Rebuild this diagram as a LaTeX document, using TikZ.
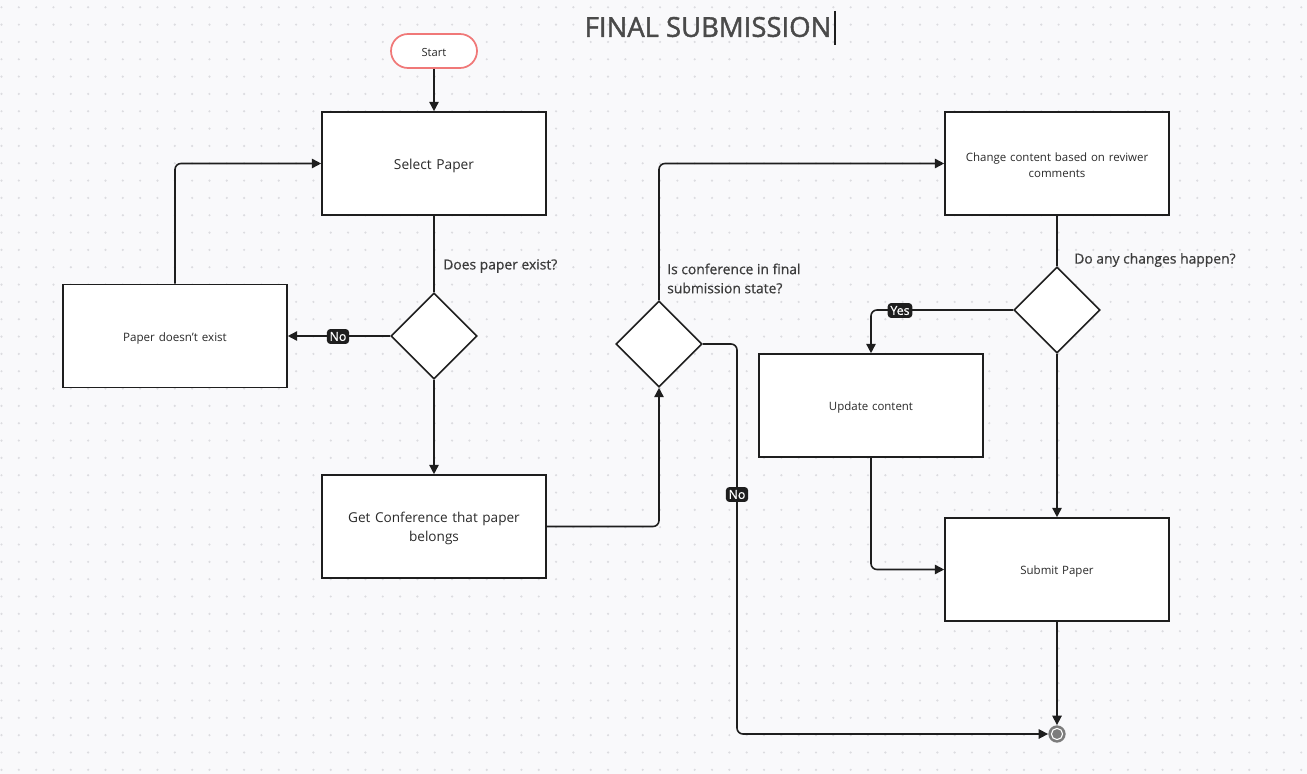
\documentclass[tikz,border=0pt]{standalone}
\usepackage{fontspec}
\setmainfont{Open Sans}
\newfontfamily\semib[FakeBold=1.5]{Open Sans}
\newfontfamily\medf[FakeBold=0.6]{Open Sans}
\usetikzlibrary{shapes.geometric,arrows.meta}
\definecolor{bg}{HTML}{F9F9FB}
\definecolor{dotc}{HTML}{DCDCE0}
\definecolor{ln}{HTML}{1E1E1E}
\definecolor{startred}{HTML}{F07878}
\definecolor{txt}{HTML}{2A2A2A}
\definecolor{lbl}{HTML}{3C3C3C}
\definecolor{ttl}{HTML}{4A4A4A}
\definecolor{endg}{HTML}{7C7C7C}
\newcommand{\dn}[1]{\raisebox{-1.5pt}[\height][\depth]{#1}}
\tikzset{
  box/.style={draw=ln, line width=1.2pt, fill=white, minimum width=168pt, minimum height=77.25pt, inner sep=2pt, align=center, text width=155pt, text=txt},
  dia/.style={draw=ln, line width=1.2pt, fill=white, diamond, aspect=1, minimum width=64.5pt, minimum height=64.5pt, inner sep=0pt},
  conn/.style={draw=ln, line width=1.2pt, rounded corners=4.5pt},
  arr/.style={conn, -{Triangle[length=7pt,width=7pt]}},
  tag/.style={fill=ln, text=white, rounded corners=2.5pt, inner xsep=2pt, inner ysep=2.2pt, font=\medf\fontsize{9.3}{9.5}\selectfont},
  note/.style={text=lbl, font=\medf\fontsize{10.4}{14.3}\selectfont, align=left, inner sep=0pt},
}
\begin{document}
\begin{tikzpicture}[x=0.75pt,y=-0.75pt]
\fill[bg] (0,0) rectangle (1307,774);
\useasboundingbox (0,0) rectangle (1307,774);
\foreach \i in {0,...,75} {
  \foreach \j in {0,...,44} {
    \fill[dotc] ({1.5+17.33*\i},{7.3+17.33*\j}) circle (0.9pt);
  }
}
% title
\node[text=ttl, font=\semib\fontsize{20.6}{24}\selectfont, inner sep=0pt] (title) at (708,27) {FINAL SUBMISSION};
\draw[ln, line width=0.8pt] (835,11) -- (835,45);
% nodes
\node[draw=startred, line width=1.3pt, fill=white, minimum width=64.5pt, minimum height=25.5pt, rounded corners=12.75pt, text=txt, font=\fontsize{8.4}{10}\selectfont] (start) at (434,51) {\dn{Start}};
\node[box, font=\fontsize{10.3}{14}\selectfont] (sel) at (434,163.5) {\dn{Select Paper}};
\node[dia] (d1) at (434,336) {};
\node[box, font=\fontsize{8.7}{12}\selectfont] (pnx) at (175,336) {\dn{Paper doesn't exist}};
\node[box, font=\fontsize{10.2}{14.3}\selectfont] (gc) at (434,526.5) {\dn{Get Conference that paper}\\\dn{belongs}};
\node[dia] (d2) at (659,344) {};
\node[box, font=\fontsize{8.6}{11.8}\selectfont] (cc) at (1057,163.5) {\dn{Change content based on reviwer}\\\dn{comments}};
\node[dia] (d3) at (1057,310) {};
\node[box, font=\fontsize{8.6}{12}\selectfont] (uc) at (871,405.5) {\dn{Update content}};
\node[box, font=\fontsize{8.6}{12}\selectfont] (sp) at (1057,569.5) {\dn{Submit Paper}};
\node[circle, fill=endg, minimum size=13pt, inner sep=0pt] (end) at (1057,734) {};
\draw[white, line width=0.8pt, fill=endg] (end.center) circle (4.2pt);
% labels
\node[note, anchor=west] (q1) at (443,266) {Does paper exist?};
\node[note, anchor=west] (q2) at (667,278.5) {Is conference in final\\submission state?};
\node[note, anchor=west] (q3) at (1074,260) {Do any changes happen?};
% connectors
\draw[arr] (start.south) -- (sel.north);
\draw[conn] (sel.south) -- (d1.north);
\draw[arr] (d1.west) -- (pnx.east);
\draw[arr] (pnx.north) |- (sel.west);
\draw[arr] (d1.south) -- (gc.north);
\draw[arr] (gc.east) -| (d2.south);
\draw[arr] (d2.north) |- (cc.west);
\coordinate (ncorner) at (737,734);
\draw[arr] (d2.east) -| (ncorner) -- (end.west);
\draw[conn] (cc.south) -- (d3.north);
\draw[arr] (d3.west) -| (uc.north);
\draw[arr] (d3.south) -- (sp.north);
\draw[arr] (uc.south) |- (sp.west);
\draw[arr] (sp.south) -- (end.north);
% tags
\node[tag] (no1) at (338,336.5) {No};
\node[tag] (no2) at (737,494.5) {No};
\node[tag] (yes) at (900,310.5) {Yes};
\end{tikzpicture}
\end{document}
